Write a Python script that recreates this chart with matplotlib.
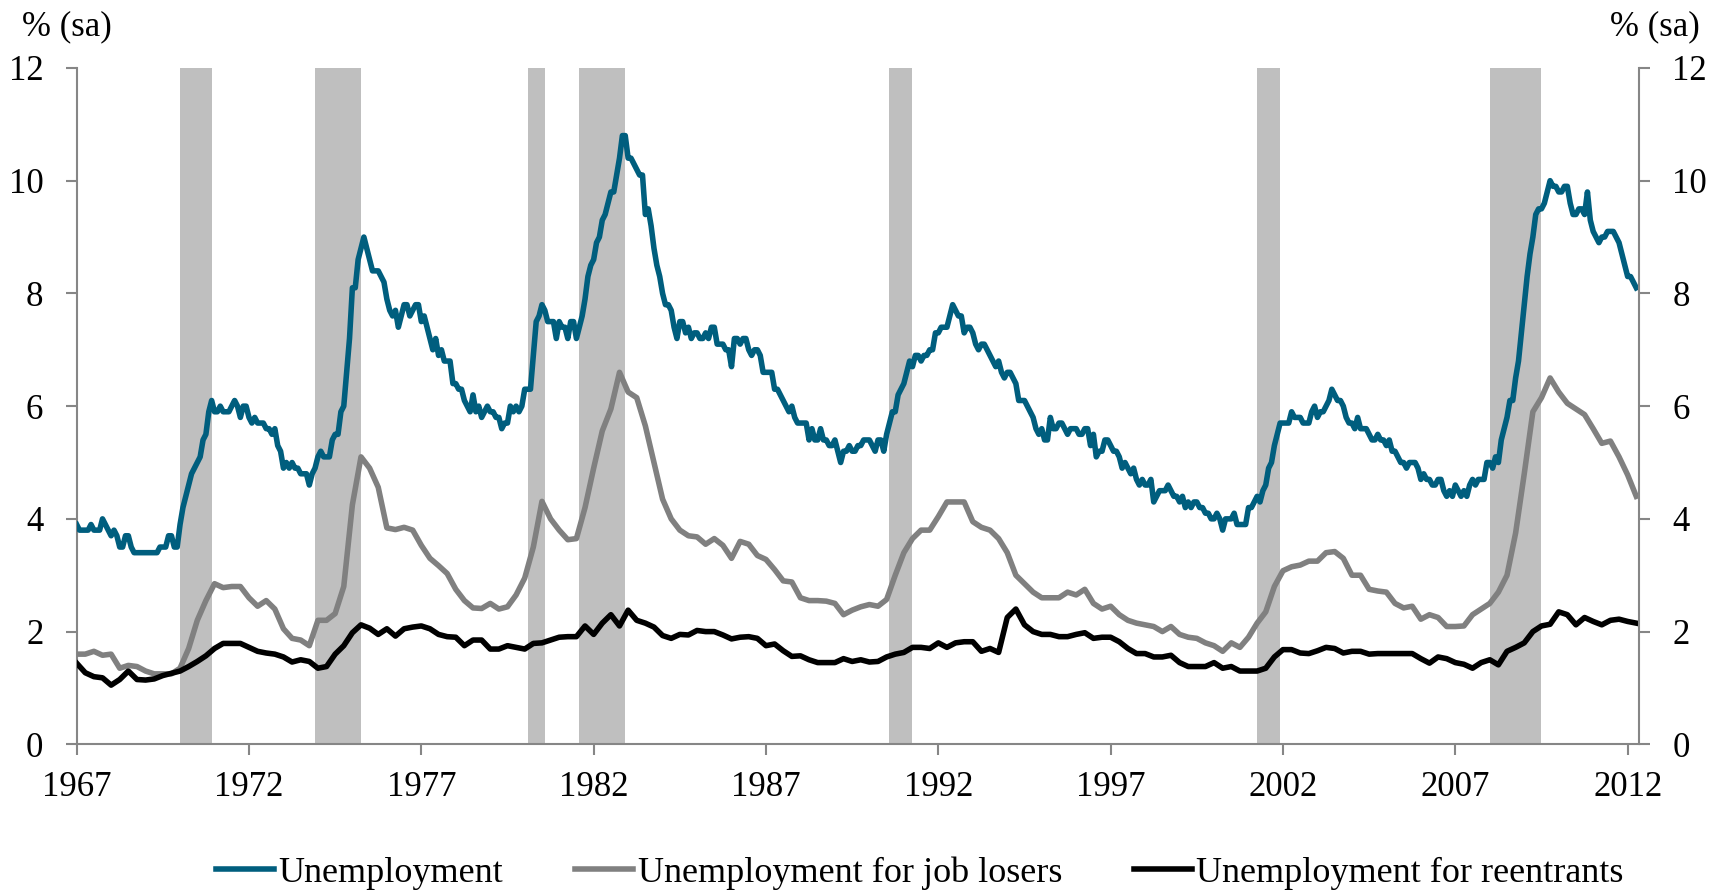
import matplotlib
matplotlib.use("Agg")
import matplotlib.pyplot as plt
import numpy as np

# ---------------- data ----------------
start_year = 1967
tick_years = [1967, 1972, 1977, 1982, 1987, 1992, 1997, 2002, 2007, 2012]

# Unemployment rate, monthly, Jan 1967 - Apr 2012 (%)
unemployment = [
    3.9, 3.8, 3.8, 3.8, 3.8, 3.9, 3.8, 3.8, 3.8, 4.0, 3.9, 3.8,
    3.7, 3.8, 3.7, 3.5, 3.5, 3.7, 3.7, 3.5, 3.4, 3.4, 3.4, 3.4,
    3.4, 3.4, 3.4, 3.4, 3.4, 3.5, 3.5, 3.5, 3.7, 3.7, 3.5, 3.5,
    3.9, 4.2, 4.4, 4.6, 4.8, 4.9, 5.0, 5.1, 5.4, 5.5, 5.9, 6.1,
    5.9, 5.9, 6.0, 5.9, 5.9, 5.9, 6.0, 6.1, 6.0, 5.8, 6.0, 6.0,
    5.8, 5.7, 5.8, 5.7, 5.7, 5.7, 5.6, 5.6, 5.5, 5.6, 5.3, 5.2,
    4.9, 5.0, 4.9, 5.0, 4.9, 4.9, 4.8, 4.8, 4.8, 4.6, 4.8, 4.9,
    5.1, 5.2, 5.1, 5.1, 5.1, 5.4, 5.5, 5.5, 5.9, 6.0, 6.6, 7.2,
    8.1, 8.1, 8.6, 8.8, 9.0, 8.8, 8.6, 8.4, 8.4, 8.4, 8.3, 8.2,
    7.9, 7.7, 7.6, 7.7, 7.4, 7.6, 7.8, 7.8, 7.6, 7.7, 7.8, 7.8,
    7.5, 7.6, 7.4, 7.2, 7.0, 7.2, 6.9, 7.0, 6.8, 6.8, 6.8, 6.4,
    6.4, 6.3, 6.3, 6.1, 6.0, 5.9, 6.2, 5.9, 6.0, 5.8, 5.9, 6.0,
    5.9, 5.9, 5.8, 5.8, 5.6, 5.7, 5.7, 6.0, 5.9, 6.0, 5.9, 6.0,
    6.3, 6.3, 6.3, 6.9, 7.5, 7.6, 7.8, 7.7, 7.5, 7.5, 7.5, 7.2,
    7.5, 7.4, 7.4, 7.2, 7.5, 7.5, 7.2, 7.4, 7.6, 7.9, 8.3, 8.5,
    8.6, 8.9, 9.0, 9.3, 9.4, 9.6, 9.8, 9.8, 10.1, 10.4, 10.8, 10.8,
    10.4, 10.4, 10.3, 10.2, 10.1, 10.1, 9.4, 9.5, 9.2, 8.8, 8.5, 8.3,
    8.0, 7.8, 7.8, 7.7, 7.4, 7.2, 7.5, 7.5, 7.3, 7.4, 7.2, 7.3,
    7.3, 7.2, 7.2, 7.3, 7.2, 7.4, 7.4, 7.1, 7.1, 7.1, 7.0, 7.0,
    6.7, 7.2, 7.2, 7.1, 7.2, 7.2, 7.0, 6.9, 7.0, 7.0, 6.9, 6.6,
    6.6, 6.6, 6.6, 6.3, 6.3, 6.2, 6.1, 6.0, 5.9, 6.0, 5.8, 5.7,
    5.7, 5.7, 5.7, 5.4, 5.6, 5.4, 5.4, 5.6, 5.4, 5.4, 5.3, 5.3,
    5.4, 5.2, 5.0, 5.2, 5.2, 5.3, 5.2, 5.2, 5.3, 5.3, 5.4, 5.4,
    5.4, 5.3, 5.2, 5.4, 5.4, 5.2, 5.5, 5.7, 5.9, 5.9, 6.2, 6.3,
    6.4, 6.6, 6.8, 6.7, 6.9, 6.9, 6.8, 6.9, 6.9, 7.0, 7.0, 7.3,
    7.3, 7.4, 7.4, 7.4, 7.6, 7.8, 7.7, 7.6, 7.6, 7.3, 7.4, 7.4,
    7.3, 7.1, 7.0, 7.1, 7.1, 7.0, 6.9, 6.8, 6.7, 6.8, 6.6, 6.5,
    6.6, 6.6, 6.5, 6.4, 6.1, 6.1, 6.1, 6.0, 5.9, 5.8, 5.6, 5.5,
    5.6, 5.4, 5.4, 5.8, 5.6, 5.6, 5.7, 5.7, 5.6, 5.5, 5.6, 5.6,
    5.6, 5.5, 5.5, 5.6, 5.6, 5.3, 5.5, 5.1, 5.2, 5.2, 5.4, 5.4,
    5.3, 5.2, 5.2, 5.1, 4.9, 5.0, 4.9, 4.8, 4.9, 4.7, 4.6, 4.7,
    4.6, 4.6, 4.7, 4.3, 4.4, 4.5, 4.5, 4.5, 4.6, 4.5, 4.4, 4.4,
    4.3, 4.4, 4.2, 4.3, 4.2, 4.3, 4.3, 4.2, 4.2, 4.1, 4.1, 4.0,
    4.0, 4.1, 4.0, 3.8, 4.0, 4.0, 4.0, 4.1, 3.9, 3.9, 3.9, 3.9,
    4.2, 4.2, 4.3, 4.4, 4.3, 4.5, 4.6, 4.9, 5.0, 5.3, 5.5, 5.7,
    5.7, 5.7, 5.7, 5.9, 5.8, 5.8, 5.8, 5.7, 5.7, 5.7, 5.9, 6.0,
    5.8, 5.9, 5.9, 6.0, 6.1, 6.3, 6.2, 6.1, 6.1, 6.0, 5.8, 5.7,
    5.7, 5.6, 5.8, 5.6, 5.6, 5.6, 5.5, 5.4, 5.4, 5.5, 5.4, 5.4,
    5.3, 5.4, 5.2, 5.2, 5.1, 5.0, 5.0, 4.9, 5.0, 5.0, 5.0, 4.9,
    4.7, 4.8, 4.7, 4.7, 4.6, 4.6, 4.7, 4.7, 4.5, 4.4, 4.5, 4.4,
    4.6, 4.5, 4.4, 4.5, 4.4, 4.6, 4.7, 4.6, 4.7, 4.7, 4.7, 5.0,
    5.0, 4.9, 5.1, 5.0, 5.4, 5.6, 5.8, 6.1, 6.1, 6.5, 6.8, 7.3,
    7.8, 8.3, 8.7, 9.0, 9.4, 9.5, 9.5, 9.6, 9.8, 10.0, 9.9, 9.9,
    9.8, 9.8, 9.9, 9.9, 9.6, 9.4, 9.4, 9.5, 9.5, 9.4, 9.8, 9.3,
    9.1, 9.0, 8.9, 9.0, 9.0, 9.1, 9.1, 9.1, 9.0, 8.9, 8.7, 8.5,
    8.3, 8.3, 8.2, 8.1,
]

# Job losers and reentrants (% of labour force), read quarterly (every 3rd month from Jan 1967)
job_losers = [
    1.60, 1.60, 1.65, 1.58, 1.60, 1.35, 1.40, 1.38, 1.30, 1.25, 1.25, 1.25,
    1.35, 1.70, 2.20, 2.55, 2.85, 2.78, 2.80, 2.80, 2.60, 2.45, 2.55, 2.40,
    2.05, 1.88, 1.85, 1.75, 2.20, 2.20, 2.32, 2.80, 4.25, 5.10, 4.90, 4.56,
    3.84, 3.81, 3.85, 3.80, 3.53, 3.30, 3.17, 3.03, 2.75, 2.55, 2.42, 2.41,
    2.50, 2.40, 2.44, 2.65, 2.95, 3.50, 4.31, 4.00, 3.80, 3.63, 3.65, 4.20,
    4.90, 5.56, 5.95, 6.60, 6.25, 6.15, 5.65, 5.00, 4.35, 4.00, 3.80, 3.70,
    3.68, 3.55, 3.65, 3.53, 3.30, 3.60, 3.55, 3.35, 3.28, 3.10, 2.90, 2.88,
    2.60, 2.55, 2.55, 2.54, 2.50, 2.30, 2.38, 2.44, 2.48, 2.45, 2.57, 3.00,
    3.40, 3.65, 3.80, 3.80, 4.04, 4.30, 4.30, 4.30, 3.95, 3.85, 3.80, 3.65,
    3.40, 3.00, 2.85, 2.70, 2.60, 2.60, 2.60, 2.70, 2.65, 2.75, 2.50, 2.40,
    2.45, 2.30, 2.20, 2.15, 2.12, 2.09, 2.00, 2.09, 1.95, 1.90, 1.88, 1.80,
    1.75, 1.65, 1.80, 1.72, 1.90, 2.15, 2.35, 2.80, 3.08, 3.15, 3.18, 3.25,
    3.25, 3.40, 3.42, 3.30, 3.00, 3.00, 2.75, 2.72, 2.70, 2.50, 2.42, 2.45,
    2.22, 2.30, 2.25, 2.09, 2.09, 2.10, 2.30, 2.40, 2.50, 2.70, 3.00, 3.75,
    4.80, 5.90, 6.15, 6.50, 6.25, 6.05, 5.95, 5.85, 5.60, 5.34, 5.38, 5.10,
    4.78, 4.40,
]
reentrants = [
    1.44, 1.27, 1.20, 1.18, 1.05, 1.15, 1.30, 1.15, 1.14, 1.16, 1.22, 1.26,
    1.30, 1.38, 1.47, 1.57, 1.70, 1.79, 1.79, 1.79, 1.72, 1.65, 1.62, 1.60,
    1.55, 1.46, 1.50, 1.47, 1.35, 1.38, 1.60, 1.75, 1.98, 2.12, 2.06, 1.95,
    2.05, 1.92, 2.05, 2.08, 2.10, 2.05, 1.95, 1.91, 1.90, 1.75, 1.85, 1.85,
    1.69, 1.69, 1.75, 1.72, 1.69, 1.79, 1.80, 1.85, 1.90, 1.91, 1.91, 2.10,
    1.95, 2.15, 2.30, 2.10, 2.38, 2.20, 2.15, 2.08, 1.93, 1.88, 1.95, 1.94,
    2.02, 2.00, 2.00, 1.94, 1.87, 1.90, 1.91, 1.88, 1.75, 1.78, 1.66, 1.56,
    1.57, 1.50, 1.45, 1.45, 1.45, 1.52, 1.47, 1.50, 1.46, 1.47, 1.55, 1.60,
    1.63, 1.72, 1.72, 1.70, 1.80, 1.72, 1.80, 1.82, 1.82, 1.65, 1.70, 1.63,
    2.25, 2.40, 2.12, 2.00, 1.95, 1.95, 1.91, 1.91, 1.95, 1.98, 1.88, 1.90,
    1.90, 1.82, 1.70, 1.61, 1.61, 1.55, 1.55, 1.58, 1.45, 1.38, 1.38, 1.38,
    1.45, 1.35, 1.38, 1.30, 1.30, 1.30, 1.35, 1.55, 1.68, 1.68, 1.62, 1.61,
    1.66, 1.72, 1.70, 1.62, 1.65, 1.65, 1.60, 1.61, 1.61, 1.61, 1.61, 1.61,
    1.52, 1.44, 1.55, 1.52, 1.45, 1.42, 1.35, 1.45, 1.50, 1.41, 1.65, 1.72,
    1.80, 2.00, 2.10, 2.13, 2.35, 2.30, 2.12, 2.25, 2.18, 2.12, 2.20, 2.22,
    2.18, 2.15,
]

# NBER recessions (peak month, trough month)
recession_peaks = ["1969-12", "1973-11", "1980-01", "1981-07", "1990-07", "2001-03", "2007-12"]
recession_troughs = ["1970-11", "1975-03", "1980-07", "1982-11", "1991-03", "2001-11", "2009-06"]

series_names = ["Unemployment", "Unemployment for job losers", "Unemployment for reentrants"]
y_label = "% (sa)"

# ---------------- styling ----------------
FONT = ["Liberation Serif", "DejaVu Serif"]
plt.rcParams["font.family"] = FONT
FS = 25
BLUE = "#005E7E"
GRAY = "#808080"
BLACK = "#000000"
SHADE = "#BFBFBF"
SPINE = "#868686"


def month_index(s):
    y, m = map(int, s.split("-"))
    return (y - start_year) * 12 + (m - 1)


fig = plt.figure(figsize=(17.11, 8.93), dpi=100)
ax = fig.add_axes([0.0448, 0.1665, 0.9132, 0.7574])

for p, t in zip(recession_peaks, recession_troughs):
    ax.axvspan(month_index(p) + 1, month_index(t) + 1, color=SHADE, lw=0, zorder=1)

x_m = np.arange(len(unemployment))
x_q = np.arange(len(job_losers)) * 3
lw = 4.0
l1, = ax.plot(x_m, unemployment, color=BLUE, lw=lw, zorder=3, solid_joinstyle="round")
l2, = ax.plot(x_q, job_losers, color=GRAY, lw=lw, zorder=3, solid_joinstyle="round")
l3, = ax.plot(x_q, reentrants, color=BLACK, lw=lw, zorder=4, solid_joinstyle="round")

ax.set_xlim(0, 544)
ax.set_ylim(0, 12)
ax.set_xticks([(yr - start_year) * 12 for yr in tick_years])
ax.set_xticklabels([str(yr) for yr in tick_years])
ax.set_yticks(range(0, 13, 2))

ax2 = ax.twinx()
ax2.set_ylim(0, 12)
ax2.set_yticks(range(0, 13, 2))

for a in (ax, ax2):
    a.spines["top"].set_visible(False)
    for side in ("left", "right", "bottom"):
        a.spines[side].set_color(SPINE)
        a.spines[side].set_linewidth(1.5)
    a.tick_params(axis="both", direction="out", length=8, width=1.5, color=SPINE,
                  labelsize=FS, labelcolor="black")
ax.tick_params(axis="y", pad=16)
ax.tick_params(axis="x", pad=11)
ax2.tick_params(axis="y", pad=16)
ax2.spines["left"].set_visible(False)
ax2.spines["bottom"].set_visible(False)
ax.spines["right"].set_visible(False)

fig.text(22 / 1711, 1 - 27 / 893, y_label, fontsize=FS, ha="left", va="center")
fig.text(1700 / 1711, 1 - 27 / 893, y_label, fontsize=FS, ha="right", va="center")

leg = fig.legend([l1, l2, l3], series_names, loc="center", bbox_to_anchor=(0.5377, 1 - 873 / 893),
                 ncol=3, frameon=False, fontsize=26, handlelength=1.6, handletextpad=0.12,
                 columnspacing=2.0, borderaxespad=0)

fig.savefig("out.png", dpi=100)
